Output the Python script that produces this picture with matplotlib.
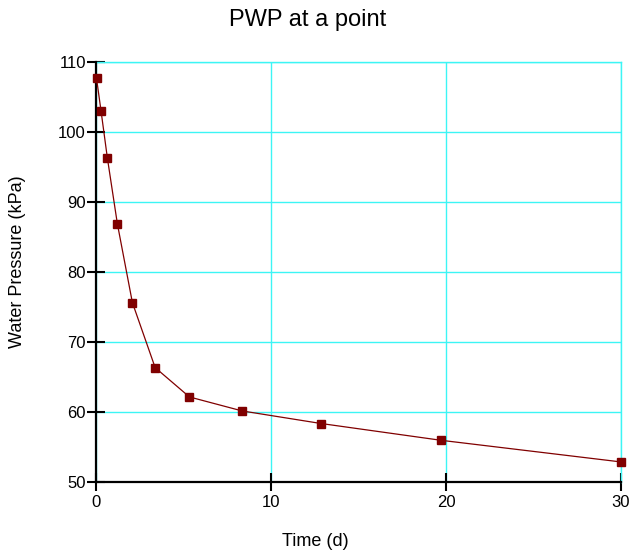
import matplotlib
matplotlib.use("Agg")
import matplotlib.pyplot as plt

plt.rcParams['font.family'] = ['Liberation Sans', 'DejaVu Sans']

# Pore-water pressure history at a single point
time_d = [0.03, 0.29, 0.65, 1.22, 2.08, 3.38, 5.34, 8.35, 12.86, 19.71, 30.0]
pressure_kpa = [107.7, 103.0, 96.3, 86.9, 75.6, 66.3, 62.1, 60.1, 58.3, 55.9, 52.8]

x_ticks = [0, 10, 20, 30]
y_ticks = [50, 60, 70, 80, 90, 100, 110]

W, H = 631, 556
fig = plt.figure(figsize=(W / 100, H / 100), dpi=100)
ax = fig.add_axes([96 / W, 1 - 481.5 / H, (621 - 96) / W, (481.5 - 62.3) / H])

grid_c = '#3CF5F5'
ax.set_xlim(0, 30)
ax.set_ylim(50, 110)
ax.set_xticks(x_ticks)
ax.set_yticks(y_ticks)
ax.grid(True, color=grid_c, linewidth=1.0)
ax.set_axisbelow(True)

for side in ('top', 'right'):
    ax.spines[side].set_color(grid_c)
    ax.spines[side].set_linewidth(1.0)
for side in ('left', 'bottom'):
    ax.spines[side].set_color('black')
    ax.spines[side].set_linewidth(1.6)
    ax.spines[side].set_zorder(5)

ax.tick_params(direction='inout', length=13, width=1.5, color='black',
               labelsize=12)
ax.tick_params(axis='x', pad=3.5)
ax.tick_params(axis='y', pad=0.8)

ax.plot(time_d, pressure_kpa, color='#800000', linewidth=0.9,
        marker='s', markersize=6, markerfacecolor='#800000',
        markeredgecolor='#800000', clip_on=False, zorder=6)

fig.text(308 / W, 1 - 20 / H, 'PWP at a point', ha='center', va='center',
         fontsize=17)
fig.text(315 / W, 1 - 542 / H, 'Time (d)', ha='center', va='center',
         fontsize=13)
fig.text(18 / W, 1 - 262 / H, 'Water Pressure (kPa)', ha='center',
         va='center', rotation=90, fontsize=13)

fig.savefig('out.png', dpi=100)
